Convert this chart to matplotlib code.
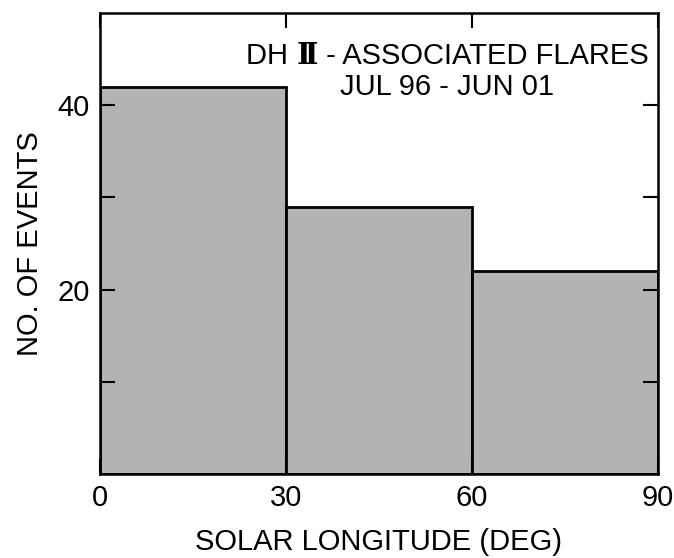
import matplotlib
matplotlib.use('Agg')
import matplotlib.pyplot as plt

# histogram bins (solar longitude, deg) and counts
bin_left = [0, 30, 60]
bin_width = [30, 30, 30]
counts = [42, 29, 22]
xticks = [0, 30, 60, 90]
yticks_major = [10, 20, 30, 40]
ylabels = ['', '20', '', '40']

plt.rcParams['font.family'] = ['Liberation Sans', 'DejaVu Sans']
plt.rcParams['font.size'] = 21

fig = plt.figure(figsize=(6.74, 5.58), dpi=100)
ax = fig.add_axes([0.148, 0.1505, 0.828, 0.8265])

ax.bar(bin_left, counts, width=bin_width, align='edge',
       color='#b3b3b3', edgecolor='black', linewidth=2)

ax.set_xlim(0, 90)
ax.set_ylim(0, 50)
ax.set_xticks(xticks)
ax.set_yticks(yticks_major)
ax.set_yticklabels(ylabels)
ax.tick_params(direction='in', length=11, width=1.5, top=True, right=True,
               labelsize=21, pad=7)
for s in ax.spines.values():
    s.set_linewidth(1.8)

ax.set_xlabel('SOLAR LONGITUDE (DEG)', fontsize=21, labelpad=12)
ax.set_ylabel('NO. OF EVENTS', fontsize=21, labelpad=10)

# first line built in pieces so the roman numeral gets a serif glyph
t1 = ax.text(23.6, 44.45, 'DH ', ha='left', va='baseline', fontsize=21)
t2 = ax.annotate('\u2161', xy=(1, 0), xycoords=t1, ha='left', va='bottom',
                 fontsize=21, family='DejaVu Serif', fontweight='bold')
ax.annotate(' - ASSOCIATED FLARES', xy=(1, 0), xycoords=t2, ha='left',
            va='bottom', fontsize=21)
ax.text(56.0, 42.0, 'JUL 96 - JUN 01', ha='center', va='center', fontsize=21)

fig.savefig('out.png', dpi=100)
